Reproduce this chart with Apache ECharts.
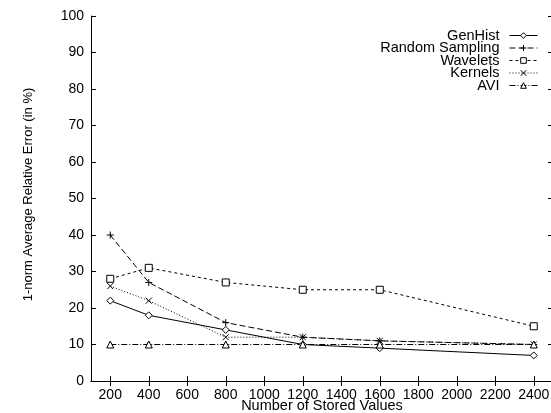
<!DOCTYPE html>
<html>
<head>
<meta charset="utf-8">
<script src="https://cdn.jsdelivr.net/npm/echarts@6/dist/echarts.min.js"></script>
<style>html,body{margin:0;padding:0;background:#fff}#c{width:551px;height:413px}</style>
</head>
<body>
<div id="c"></div>
<script>
const xValues = [200, 400, 800, 1200, 1600, 2400];
const xTicks = [200, 400, 600, 800, 1000, 1200, 1400, 1600, 1800, 2000, 2200, 2400];
const genHist = [22, 18, 14, 10, 9, 7];
const randomSampling = [40, 27, 16, 12, 11, 10];
const wavelets = [28, 31, 27, 25, 25, 15];
const kernels = [26, 22, 12, 12, 11, 10];
const avi = [10, 10, 10, 10, 10, 10];

const FONT = 'Liberation Sans';
const plus = 'path://M0,5L10,5M5,0L5,10';
const cross = 'path://M0,0L10,10M0,10L10,0';

function pairs(ys){ return xValues.map((x,i)=>[x, ys[i]]); }
function mk(name, data, symbol, size, dash){
  return {
    name, type:'line', data: pairs(data), symbol, symbolSize: size,
    lineStyle:{color:'#000', width:1, type: dash},
    itemStyle:{color:'#fff', borderColor:'#000', borderWidth:1},
    emphasis:{disabled:true}, animation:false
  };
}
const chart = echarts.init(document.getElementById('c'), null, {renderer:'canvas'});
const axisCommon = {
  axisLine:{show:true, lineStyle:{color:'#000', width:1}},
  splitLine:{show:false}
};
chart.setOption({
  animation:false,
  backgroundColor:'#fff',
  grid:{left:91, right:-2, top:16, bottom:32, containLabel:false, outerBoundsMode:'none'},
  legend:{
    orient:'vertical', align:'right', right:8, top:23,
    itemWidth:28, itemHeight:7, itemGap:-2.5,
    lineStyle:{width:1},
    itemStyle:{borderWidth:1},
    textStyle:{fontFamily:FONT, fontSize:14.5, color:'#000', lineHeight:12, padding:[0,5,0,0]},
    data:['GenHist','Random Sampling','Wavelets','Kernels','AVI']
  },
  xAxis:[
    Object.assign({type:'value', min:100, max:2500, position:'bottom',
      name:'Number of Stored Values', nameLocation:'middle', nameGap:17, nameMoveOverlap:false,
      nameTextStyle:{fontFamily:FONT, fontSize:14.5, color:'#000'},
      axisTick:{show:true, inside:true, length:5, customValues:xTicks, lineStyle:{color:'#000'}},
      axisLabel:{customValues:xTicks, fontFamily:FONT, fontSize:14, color:'#000', margin:7, formatter:(v)=>String(v)}
    }, axisCommon),
    Object.assign({type:'value', min:100, max:2500, position:'top',
      axisTick:{show:true, inside:true, length:5, customValues:xTicks, lineStyle:{color:'#000'}},
      axisLabel:{show:false}
    }, axisCommon)
  ],
  yAxis:[
    Object.assign({type:'value', min:0, max:100, interval:10, position:'left',
      name:'1-norm Average Relative Error (in %)', nameLocation:'middle', nameGap:56, nameMoveOverlap:false,
      nameTextStyle:{fontFamily:FONT, fontSize:13, color:'#000', padding:[0,0,0,8]},
      axisTick:{show:true, inside:true, length:5, lineStyle:{color:'#000'}},
      axisLabel:{fontFamily:FONT, fontSize:14, color:'#000', margin:7}
    }, axisCommon),
    Object.assign({type:'value', min:0, max:100, interval:10, position:'right',
      axisTick:{show:true, inside:true, length:5, lineStyle:{color:'#000'}},
      axisLabel:{show:false}
    }, axisCommon)
  ],
  series:[
    mk('GenHist', genHist, 'diamond', 7, 'solid'),
    mk('Random Sampling', randomSampling, plus, 7, [6,3]),
    mk('Wavelets', wavelets, 'rect', 7, [3,3]),
    mk('Kernels', kernels, cross, 6, [1,2]),
    mk('AVI', avi, 'triangle', 7, [6,2,1,2])
  ]
});
</script>
</body>
</html>
